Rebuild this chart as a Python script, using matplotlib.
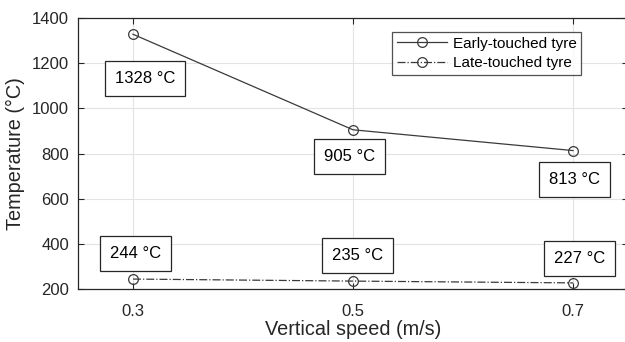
import matplotlib
matplotlib.use("Agg")
import matplotlib.pyplot as plt

# ── data ──────────────────────────────────────────────────────────────────────
speed = [0.3, 0.5, 0.7]
early_temp = [1328, 905, 813]
late_temp = [244, 235, 227]
early_label_pos = [(0.311, 1134), (0.497, 785), (0.701, 683)]
late_label_pos = [(0.302, 359), (0.504, 350), (0.706, 337)]

plt.rcParams["font.family"] = ["Liberation Sans", "DejaVu Sans"]
INK = "#262626"
LINE = "#3a3a3a"

fig = plt.figure(figsize=(6.25, 3.42), dpi=100)
ax = fig.add_axes([78 / 625, 1 - 289 / 342, 550 / 625, 271 / 342])

ax.plot(speed, early_temp, "-", color=LINE, lw=0.9, marker="o", ms=7,
        mfc="none", mec=LINE, mew=0.9, label="Early-touched tyre")
ax.plot(speed, late_temp, "-.", color=LINE, lw=0.9, marker="o", ms=7,
        mfc="none", mec=LINE, mew=0.9, label="Late-touched tyre")

box = dict(boxstyle="square,pad=0.6", facecolor="white", edgecolor=INK, linewidth=0.9)
for t, (x, y) in zip(early_temp, early_label_pos):
    ax.text(x, y, f"{t} °C", ha="center", va="center", fontsize=12, color="black", bbox=box)
for t, (x, y) in zip(late_temp, late_label_pos):
    ax.text(x, y, f"{t} °C", ha="center", va="center", fontsize=12, color="black", bbox=box)

ax.set_xlim(0.25, 0.75)
ax.set_ylim(200, 1400)
ax.set_xticks(speed)
ax.set_xticklabels(["0.3", "0.5", "0.7"])
ax.set_yticks([200, 400, 600, 800, 1000, 1200, 1400])
ax.tick_params(direction="in", top=True, right=True, length=4, width=0.8,
               colors=INK, labelsize=12)
ax.tick_params(axis="y", pad=6.5)
ax.tick_params(axis="x", pad=10.5)
ax.grid(True, color="#e3e3e3", linewidth=0.8)
ax.set_axisbelow(True)
for sp in ax.spines.values():
    sp.set_color(INK)
    sp.set_linewidth(0.9)

ax.set_xlabel("Vertical speed (m/s)", fontsize=14.3, color=INK, labelpad=1)
ax.set_ylabel("Temperature (°C)", fontsize=14.3, color=INK, labelpad=5)

leg = ax.legend(loc="upper right", bbox_to_anchor=(0.9145, 0.948), borderaxespad=0,
                fontsize=11, frameon=True, fancybox=False, edgecolor=INK,
                handlelength=3.3, borderpad=0.3, labelspacing=0.35, handletextpad=0.35)
leg.get_frame().set_linewidth(0.9)
for txt in leg.get_texts():
    txt.set_color("black")

fig.savefig("out.png", dpi=100)
